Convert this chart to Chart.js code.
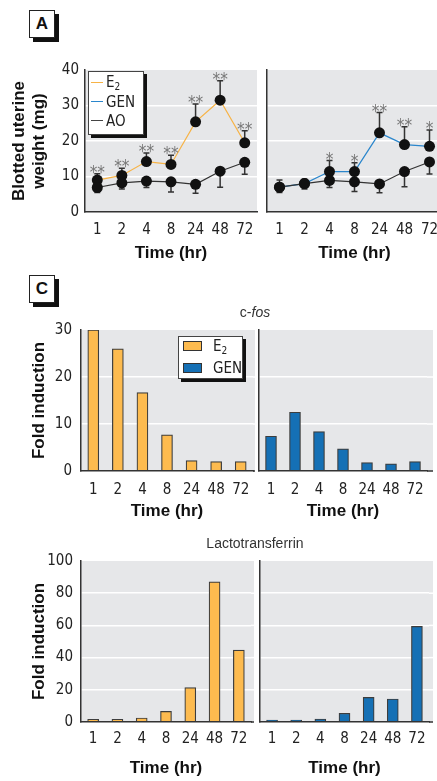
<!DOCTYPE html>
<html>
<head>
<meta charset="utf-8">
<script src="https://cdn.jsdelivr.net/npm/chart.js@4.4.1/dist/chart.umd.min.js"></script>
<style>
  html, body { margin: 0; padding: 0; background: #fff; overflow: hidden; width: 437px; height: 781px; }
  canvas { position: absolute; }
  .tag { position: absolute; width: 24px; height: 26px; border: 1.5px solid #222; background: #fff;
         box-shadow: 4px 4px 0 #111; font: bold 17px 'Liberation Sans', Arial, sans-serif;
         text-align: center; line-height: 26px; color: #111; }
  .legend { position: absolute; background: #fff; border: 1px solid #444; box-shadow: 3px 3px 0 #111;
            font: 15px 'Liberation Sans Narrow', 'DejaVu Sans Condensed', 'Liberation Sans', Arial, sans-serif; color: #222;
            box-sizing: border-box; }
  .legend .row { position: absolute; left: 0; right: 0; display: flex; align-items: center; }
  .legend .ln { position: absolute; left: 2px; width: 12px; height: 1.2px; }
  .legend .sw { position: absolute; left: 4px; width: 17px; height: 8px; border: 1px solid #333; }
  .legend sub { font-size: 10px; vertical-align: -3px; }
  .ptitle { position: absolute; font: 14px 'Liberation Sans', Arial, sans-serif; color: #333; transform: translateX(-50%); white-space: nowrap; }
</style>
</head>
<body>
<div class="tag" style="left:29px;top:10px">A</div>
<div class="tag" style="left:29px;top:275px">C</div>

<canvas id="wLeft" width="262" height="214" style="left:0px;top:56px"></canvas>
<canvas id="wRight" width="180" height="214" style="left:262px;top:56px"></canvas>
<canvas id="fosLeft" width="256" height="207" style="left:0px;top:318px"></canvas>
<canvas id="fosRight" width="181" height="207" style="left:256px;top:318px"></canvas>
<canvas id="ltfLeft" width="256" height="233" style="left:0px;top:548px"></canvas>
<canvas id="ltfRight" width="181" height="233" style="left:256px;top:548px"></canvas>

<div class="legend" style="left:88px;top:71px;width:56px;height:64px">
  <div class="row" style="top:1px;height:19px"><span class="ln" style="background:#F7B346"></span><span style="margin-left:17px">E<sub>2</sub></span></div>
  <div class="row" style="top:20px;height:19px"><span class="ln" style="background:#2A86CC"></span><span style="margin-left:17px">GEN</span></div>
  <div class="row" style="top:39px;height:19px"><span class="ln" style="background:#444"></span><span style="margin-left:17px">AO</span></div>
</div>

<div class="legend" style="left:178px;top:336px;width:65px;height:43px">
  <div class="row" style="top:-1px;height:20px"><span class="sw" style="background:#FDBB4F"></span><span style="margin-left:34px">E<sub>2</sub></span></div>
  <div class="row" style="top:21px;height:20px"><span class="sw" style="background:#1570B5"></span><span style="margin-left:34px">GEN</span></div>
</div>

<div class="ptitle" style="left:255px;top:304px">c-<i>fos</i></div>
<div class="ptitle" style="left:255px;top:535px">Lactotransferrin</div>

<script>
// time points (hr)
const hours = ['1', '2', '4', '8', '24', '48', '72'];

// A: blotted uterine weight (mg), E2 study
const weightE2 = [9.0, 10.3, 14.2, 13.4, 25.4, 31.5, 19.5];
const weightE2Upper = [10.8, 12.3, 16.6, 16.0, 30.4, 37.0, 22.9];
const weightAOLeft = [6.9, 8.2, 8.7, 8.5, 7.8, 11.5, 14.0];
const weightAOLeftLower = [5.5, 6.5, 6.9, 5.6, 5.3, 7.0, 10.6];
const starsE2 = ['**', '**', '**', '**', '**', '**', '**'];

// A: GEN study
const weightGEN = [7.0, 8.0, 11.4, 11.4, 22.3, 19.0, 18.5];
const weightGENUpper = [9.0, 9.2, 14.5, 13.9, 28.0, 24.0, 23.1];
const weightAORight = [7.0, 8.0, 8.9, 8.5, 7.9, 11.4, 14.1];
const weightAORightLower = [5.5, 6.5, 6.9, 5.8, 5.4, 7.1, 10.7];
const starsGEN = ['', '', '*', '*', '**', '**', '*'];

// C: fold induction
const cfosE2 = [30.0, 26.0, 16.7, 7.7, 2.2, 2.0, 2.0];
const cfosGEN = [7.4, 12.5, 8.4, 4.7, 1.8, 1.5, 2.0];
const ltfE2 = [1.7, 1.7, 2.5, 6.6, 21.4, 87.0, 44.7];
const ltfGEN = [1.2, 1.2, 1.8, 5.4, 15.3, 14.3, 59.4];

const NARROW = "'Liberation Sans Narrow', 'DejaVu Sans Condensed', 'Liberation Sans', Arial, sans-serif";
const BOLD = "'Liberation Sans', Arial, sans-serif";
const ORANGE = '#FDBB4F';
const BLUE = '#1570B5';
const PLOT_GRAY = '#E6E7E9';

// gray plot background; "extend" lets the gray (and its white grid) run a few px past the last category
const plotBg = {
    id: 'plotBg',
    beforeDraw(chart, args, opts) {
        const { ctx, chartArea: a } = chart;
        const ext = opts.extend || 0;
        ctx.save();
        ctx.fillStyle = PLOT_GRAY;
        ctx.fillRect(a.left, a.top, a.width + ext, a.height);
        if (ext) {
            const y = chart.scales.y;
            ctx.strokeStyle = '#fff';
            ctx.lineWidth = 1.5;
            y.ticks.forEach(t => {
                if (t.value <= y.min || t.value >= y.max) return;
                const py = y.getPixelForValue(t.value);
                ctx.beginPath();
                ctx.moveTo(a.right, py);
                ctx.lineTo(a.right + ext, py);
                ctx.stroke();
            });
            ctx.strokeStyle = '#333';
            ctx.beginPath();
            ctx.moveTo(a.right, a.bottom);
            ctx.lineTo(a.right + ext, a.bottom);
            ctx.stroke();
        }
        ctx.restore();
    }
};

const errorBars = {
    id: 'errorBars',
    beforeDatasetsDraw(chart) {
        const { ctx, scales: { x, y } } = chart;
        ctx.save();
        ctx.strokeStyle = '#333';
        ctx.lineWidth = 1.5;
        chart.data.datasets.forEach(ds => {
            if (!ds.errorTo) return;
            ds.errorTo.forEach((v, j) => {
                const px = x.getPixelForValue(j);
                const y0 = y.getPixelForValue(ds.data[j]);
                const y1 = y.getPixelForValue(v);
                ctx.beginPath();
                ctx.moveTo(px, y0);
                ctx.lineTo(px, y1);
                ctx.moveTo(px - 3, y1);
                ctx.lineTo(px + 3, y1);
                ctx.stroke();
            });
        });
        ctx.restore();
    },
    afterDatasetsDraw(chart) {
        const { ctx, scales: { x, y } } = chart;
        ctx.save();
        ctx.fillStyle = '#777';
        ctx.font = '17px ' + NARROW;
        ctx.textAlign = 'center';
        ctx.textBaseline = 'alphabetic';
        chart.data.datasets.forEach(ds => {
            if (!ds.stars) return;
            ds.stars.forEach((s, j) => {
                if (!s) return;
                const px = x.getPixelForValue(j);
                const y1 = y.getPixelForValue(ds.errorTo[j]);
                ctx.fillText(s, px, y1 + 4);
            });
        });
        ctx.restore();
    }
};

// p: box (canvas position on page), area (wanted plot area on page), y axis settings
const buildOptions = (p) => ({
    responsive: false,
    maintainAspectRatio: false,
    animation: false,
    devicePixelRatio: 1,
    layout: {
        autoPadding: false,
        padding: { left: 0, top: p.area.t - p.box.y, right: p.box.x + p.box.w - p.area.r, bottom: 0 }
    },
    plugins: { legend: { display: false }, tooltip: { enabled: false }, plotBg: { extend: p.extend || 0 } },
    scales: {
        x: {
            offset: true,
            grid: { display: false, drawTicks: false },
            border: { display: true, color: '#333', width: 1.5, z: 1 },
            ticks: { color: '#222', font: { family: NARROW, size: 15 }, padding: p.xTickPad, maxRotation: 0, autoSkip: false },
            title: {
                display: true, text: 'Time (hr)', color: '#111',
                font: { family: BOLD, size: 17, weight: 'bold' },
                padding: { top: 0, bottom: p.xTitlePad }
            },
            afterFit(s) {
                s.height = p.box.y + p.box.h - p.area.b;
                // labels sit inside the offset categories; don't let them shrink the plot
                s.paddingLeft = 0;
                s.paddingRight = 0;
            }
        },
        y: {
            min: 0,
            max: p.yMax,
            grid: {
                color: c => (c.tick && c.tick.value > 0 && c.tick.value < p.yMax) ? '#fff' : 'rgba(0,0,0,0)',
                lineWidth: 1.5,
                drawTicks: false
            },
            border: { display: true, color: '#333', width: 1.5, z: 1 },
            ticks: { display: p.showY, stepSize: p.yStep, padding: p.yTickPad, color: '#222', font: { family: NARROW, size: 15 } },
            title: {
                display: !!p.yTitle, text: p.yTitle, color: '#111',
                font: { family: BOLD, size: 17, weight: 'bold', lineHeight: 1.2 },
                padding: { top: p.yTitlePad, bottom: 0 }
            },
            afterFit(s) {
                s.width = p.area.l - p.box.x;
                s.paddingTop = 0;
                s.paddingBottom = 0;
            }
        }
    }
});

const lineSet = (data, errorTo, color, stars) => ({
    data, errorTo, stars,
    borderColor: color,
    borderWidth: 1.2,
    pointRadius: 5.5,
    pointBackgroundColor: '#111',
    pointBorderWidth: 0,
    tension: 0
});

const barSet = (data, color) => ({
    data,
    backgroundColor: color,
    borderColor: '#3d3d3d',
    borderWidth: 1.2,
    barThickness: 11
});

new Chart(document.getElementById('wLeft'), {
    type: 'line',
    data: { labels: hours, datasets: [
        lineSet(weightAOLeft, weightAOLeftLower, '#333'),
        lineSet(weightE2, weightE2Upper, '#F7B346', starsE2)
    ] },
    options: buildOptions({
        box: { x: 0, y: 56, w: 262, h: 214 }, area: { l: 85, t: 70, r: 257, b: 212 },
        yMax: 40, yStep: 10, showY: true, yTickPad: 6,
        yTitle: ['Blotted uterine', 'weight (mg)'], yTitlePad: 9,
        xTickPad: 9, xTitlePad: 6
    }),
    plugins: [plotBg, errorBars]
});

new Chart(document.getElementById('wRight'), {
    type: 'line',
    data: { labels: hours, datasets: [
        lineSet(weightAORight, weightAORightLower, '#333'),
        lineSet(weightGEN, weightGENUpper, '#2A86CC', starsGEN)
    ] },
    options: buildOptions({
        box: { x: 262, y: 56, w: 180, h: 214 }, area: { l: 267, t: 70, r: 442, b: 212 },
        yMax: 40, yStep: 10, showY: false, yTickPad: 0,
        xTickPad: 9, xTitlePad: 6
    }),
    plugins: [plotBg, errorBars]
});

new Chart(document.getElementById('fosLeft'), {
    type: 'bar',
    data: { labels: hours, datasets: [barSet(cfosE2, ORANGE)] },
    options: buildOptions({
        box: { x: 0, y: 318, w: 256, h: 207 }, area: { l: 81, t: 330, r: 253, b: 471 }, extend: 2,
        yMax: 30, yStep: 10, showY: true, yTickPad: 9,
        yTitle: 'Fold induction', yTitlePad: 29,
        xTickPad: 10, xTitlePad: 3
    }),
    plugins: [plotBg]
});

new Chart(document.getElementById('fosRight'), {
    type: 'bar',
    data: { labels: hours, datasets: [barSet(cfosGEN, BLUE)] },
    options: buildOptions({
        box: { x: 256, y: 318, w: 181, h: 207 }, area: { l: 259, t: 330, r: 427, b: 471 }, extend: 6,
        yMax: 30, yStep: 10, showY: false, yTickPad: 0,
        xTickPad: 10, xTitlePad: 3
    }),
    plugins: [plotBg]
});

new Chart(document.getElementById('ltfLeft'), {
    type: 'bar',
    data: { labels: hours, datasets: [barSet(ltfE2, ORANGE)] },
    options: buildOptions({
        box: { x: 0, y: 548, w: 256, h: 233 }, area: { l: 81, t: 561, r: 251, b: 722 }, extend: 3,
        yMax: 100, yStep: 20, showY: true, yTickPad: 8,
        yTitle: 'Fold induction', yTitlePad: 29,
        xTickPad: 8, xTitlePad: 2
    }),
    plugins: [plotBg]
});

new Chart(document.getElementById('ltfRight'), {
    type: 'bar',
    data: { labels: hours, datasets: [barSet(ltfGEN, BLUE)] },
    options: buildOptions({
        box: { x: 256, y: 548, w: 181, h: 233 }, area: { l: 260, t: 561, r: 429, b: 722 }, extend: 4,
        yMax: 100, yStep: 20, showY: false, yTickPad: 0,
        xTickPad: 8, xTitlePad: 2
    }),
    plugins: [plotBg]
});
</script>
</body>
</html>
